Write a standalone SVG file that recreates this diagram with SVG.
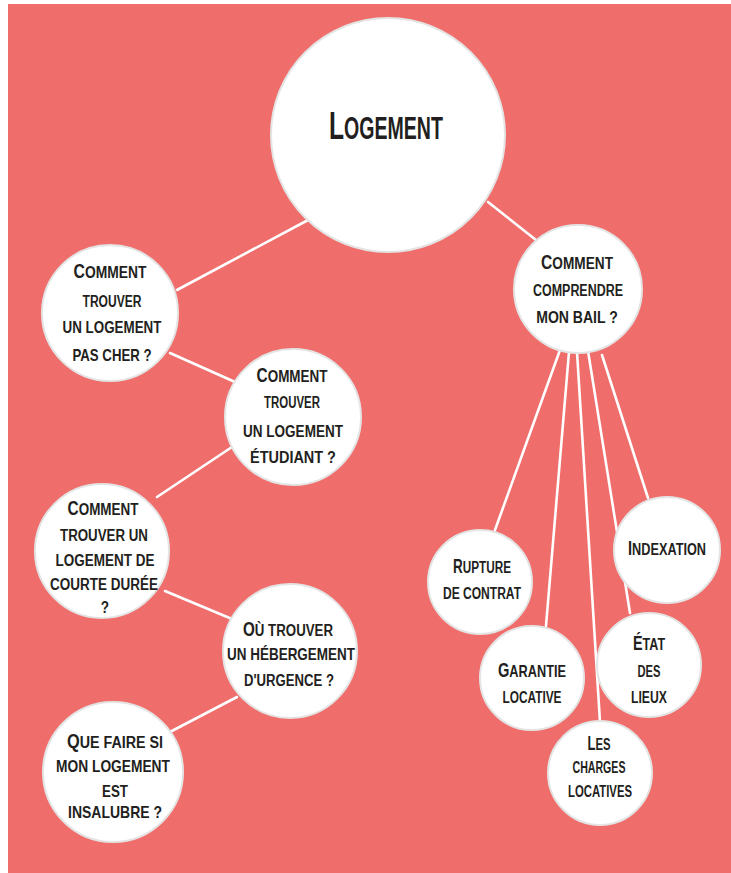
<svg xmlns="http://www.w3.org/2000/svg" width="731" height="873" viewBox="0 0 731 873">
<style>
.bg{fill:#EF6E6C}
.n{fill:#ffffff;stroke:#e4e4e4;stroke-width:2}
.t{font-family:"Liberation Sans",Arial,sans-serif;font-weight:bold;font-size:17px;fill:#231f20;text-anchor:middle;text-transform:uppercase}
.c{font-size:19.5px}
.big{font-size:31px}
.bigc{font-size:39px}
#connectors line{stroke:#ffffff;stroke-width:2.6;stroke-linecap:round}
</style>
<rect class="bg" x="8" y="4" width="723" height="869"/>
<g id="connectors">
<line x1="177" y1="290" x2="310" y2="219"/>
<line x1="488" y1="202" x2="536" y2="240"/>
<line x1="170" y1="353" x2="235" y2="382"/>
<line x1="235" y1="445" x2="157" y2="497"/>
<line x1="165" y1="591" x2="232" y2="619"/>
<line x1="237" y1="697" x2="168" y2="733"/>
<line x1="560" y1="350" x2="495" y2="530"/>
<line x1="569" y1="352" x2="546" y2="626"/>
<line x1="577" y1="352" x2="600" y2="722"/>
<line x1="588" y1="351" x2="630" y2="613"/>
<line x1="602" y1="355" x2="648" y2="498"/>
</g>
<g id="logement">
<circle class="n" cx="388" cy="135" r="117"/>
<text class="t big" transform="translate(386 139) scale(0.631 1)"><tspan class="bigc">L</tspan>ogement</text>
</g>
<g id="pas-cher">
<circle class="n" cx="110" cy="313" r="68"/>
<text class="t" transform="translate(110 278) scale(0.814 1)"><tspan class="c">C</tspan>omment</text>
<text class="t" transform="translate(112 307) scale(0.71 1)">trouver</text>
<text class="t" transform="translate(112 333) scale(0.788 1)">un logement</text>
<text class="t" transform="translate(112 361) scale(0.777 1)">pas cher ?</text>
</g>
<g id="etudiant">
<circle class="n" cx="293" cy="417" r="68"/>
<text class="t" transform="translate(292 382) scale(0.792 1)"><tspan class="c">C</tspan>omment</text>
<text class="t" transform="translate(292 408) scale(0.674 1)">trouver</text>
<text class="t" transform="translate(293 437) scale(0.796 1)">un logement</text>
<text class="t" transform="translate(293 463) scale(0.851 1)">étudiant ?</text>
</g>
<g id="courte-duree">
<circle class="n" cx="102" cy="551" r="67"/>
<text class="t" transform="translate(103 515) scale(0.792 1)"><tspan class="c">C</tspan>omment</text>
<text class="t" transform="translate(104 541) scale(0.783 1)">trouver un</text>
<text class="t" transform="translate(105 566) scale(0.794 1)">logement de</text>
<text class="t" transform="translate(104 590) scale(0.794 1)">courte durée</text>
<text class="t" transform="translate(105 613) scale(0.8 1)">?</text>
</g>
<g id="urgence">
<circle class="n" cx="290" cy="651" r="67"/>
<text class="t" transform="translate(288 636) scale(0.781 1)"><tspan class="c">O</tspan>ù trouver</text>
<text class="t" transform="translate(291 660) scale(0.793 1)">un hébergement</text>
<text class="t" transform="translate(289 686) scale(0.773 1)">d'urgence ?</text>
</g>
<g id="insalubre">
<circle class="n" cx="113" cy="772" r="70"/>
<text class="t" transform="translate(115 748) scale(0.841 1)"><tspan class="c">Q</tspan>ue faire si</text>
<text class="t" transform="translate(113 772) scale(0.81 1)">mon logement</text>
<text class="t" transform="translate(115 797) scale(0.786 1)">est</text>
<text class="t" transform="translate(115 818) scale(0.822 1)">insalubre ?</text>
</g>
<g id="bail">
<circle class="n" cx="578" cy="289" r="64"/>
<text class="t" transform="translate(577 269) scale(0.803 1)"><tspan class="c">C</tspan>omment</text>
<text class="t" transform="translate(578 296) scale(0.733 1)">comprendre</text>
<text class="t" transform="translate(577 323) scale(0.827 1)">mon bail ?</text>
</g>
<g id="rupture">
<circle class="n" cx="480" cy="582" r="52"/>
<text class="t" transform="translate(482 573) scale(0.691 1)"><tspan class="c">R</tspan>upture</text>
<text class="t" transform="translate(482 599) scale(0.709 1)">de contrat</text>
</g>
<g id="indexation">
<circle class="n" cx="667" cy="550" r="53"/>
<text class="t" transform="translate(667 555) scale(0.749 1)"><tspan class="c">I</tspan>ndexation</text>
</g>
<g id="garantie">
<circle class="n" cx="532" cy="678" r="52"/>
<text class="t" transform="translate(532 677) scale(0.75 1)"><tspan class="c">G</tspan>arantie</text>
<text class="t" transform="translate(532 703) scale(0.698 1)">locative</text>
</g>
<g id="etat-des-lieux">
<circle class="n" cx="649" cy="665" r="52"/>
<text class="t" transform="translate(649 650) scale(0.738 1)"><tspan class="c">É</tspan>tat</text>
<text class="t" transform="translate(649 677) scale(0.658 1)">des</text>
<text class="t" transform="translate(649 703) scale(0.719 1)">lieux</text>
</g>
<g id="charges">
<circle class="n" cx="600" cy="773" r="52"/>
<text class="t" transform="translate(599 750) scale(0.665 1)"><tspan class="c">L</tspan>es</text>
<text class="t" transform="translate(599 773) scale(0.624 1)">charges</text>
<text class="t" transform="translate(600 797) scale(0.668 1)">locatives</text>
</g>
</svg>
